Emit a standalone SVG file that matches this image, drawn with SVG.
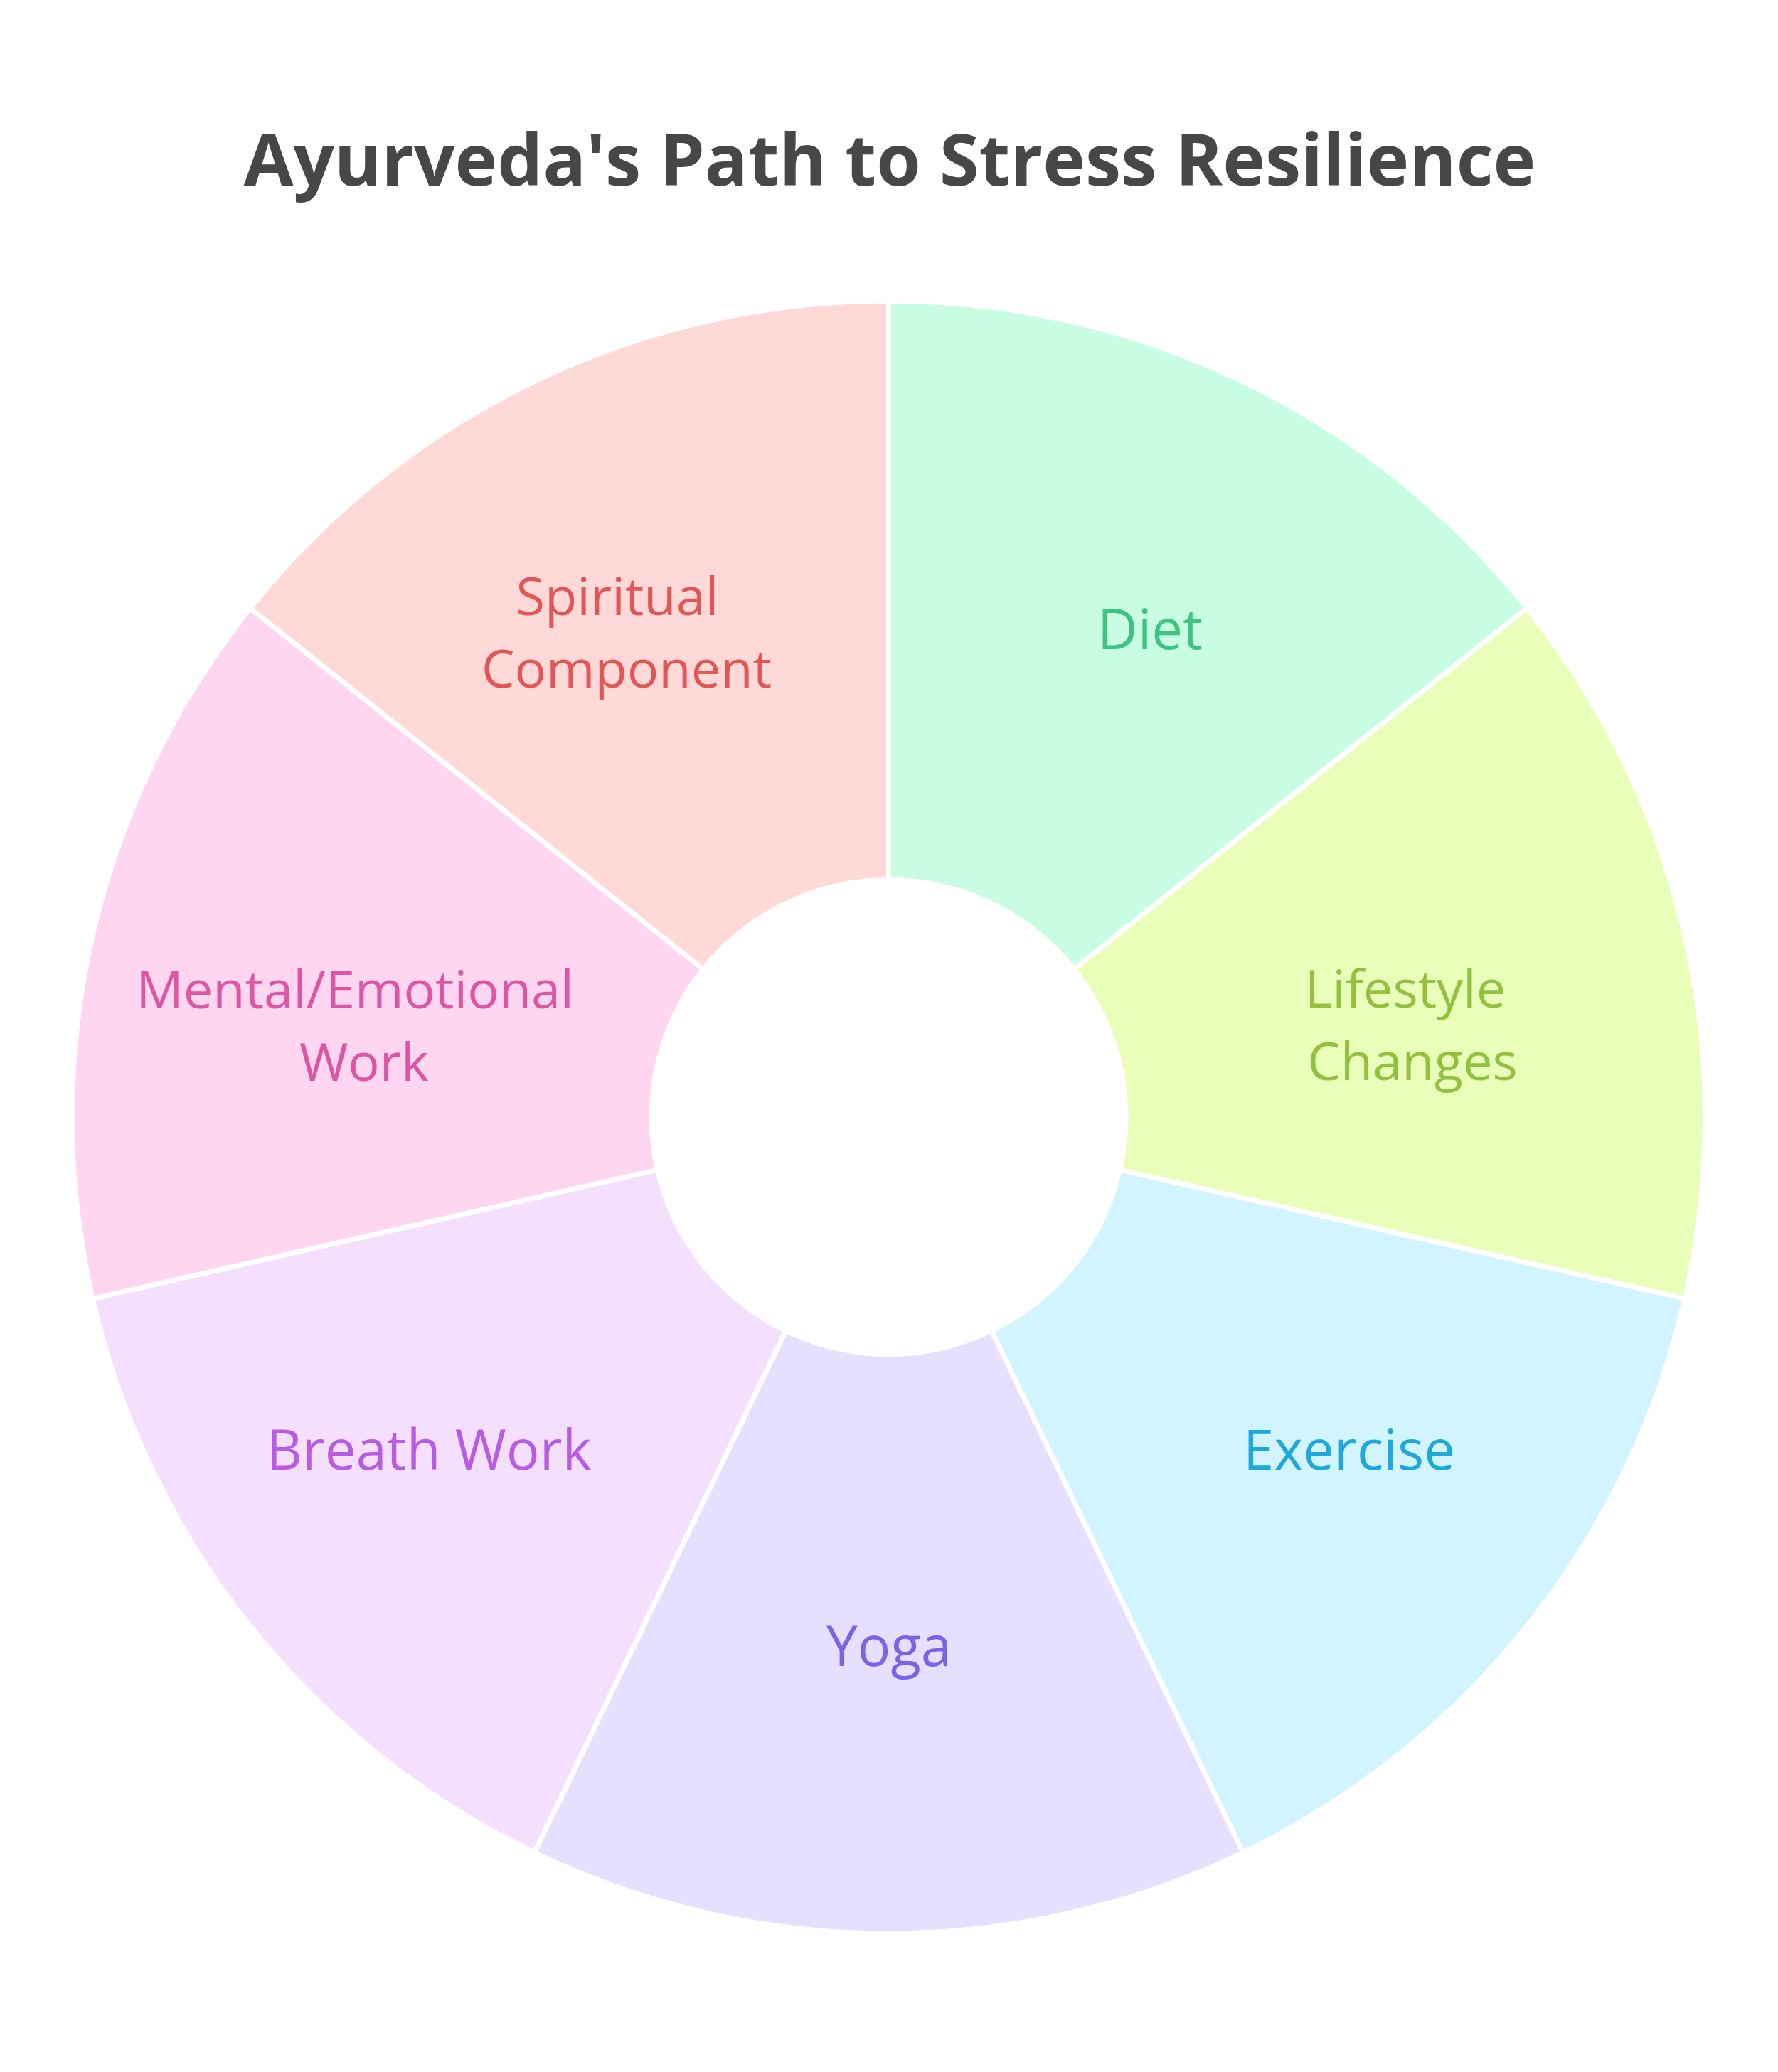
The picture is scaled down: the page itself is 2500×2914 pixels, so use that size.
<svg xmlns="http://www.w3.org/2000/svg" width="2500" height="2914" viewBox="0 0 2500 2914">
<style>
.seg{stroke:#ffffff;stroke-width:7;stroke-linejoin:round}
.lbl{font-family:"Open Sans","Noto Sans",sans-serif;font-size:78px;text-anchor:middle}
.lbl2{font-family:"Open Sans","Noto Sans",sans-serif;font-size:74px;text-anchor:middle}
.title{font-family:"Open Sans","Noto Sans",sans-serif;font-size:101px;font-weight:bold;fill:#474747;text-anchor:middle}
</style>
<rect x="0" y="0" width="2500" height="2914" fill="#ffffff"/>
<text class="title" x="1251" y="261">Ayurveda's Path to Stress Resilience</text>
<g id="segments">
<g id="diet">
<path class="seg" fill="#c8fde3" d="M1249.5,1571 L1249.5,423 A1148,1148 0 0 1 2147.04,855.23 Z"/>
<text class="lbl" fill="#3ec47f" x="1617" y="913">Diet</text>
</g>
<g id="lifestyle">
<path class="seg" fill="#e9feb9" d="M1249.5,1571 L2147.04,855.23 A1148,1148 0 0 1 2368.72,1826.45 Z"/>
<text class="lbl2" fill="#93c13f"><tspan x="1976" y="1417">Lifestyle</tspan><tspan x="1986" y="1519">Changes</tspan></text>
</g>
<g id="exercise">
<path class="seg" fill="#d2f4fe" d="M1249.5,1571 L2368.72,1826.45 A1148,1148 0 0 1 1747.6,2605.31 Z"/>
<text class="lbl" fill="#1fa9da" x="1897" y="2067">Exercise</text>
</g>
<g id="yoga">
<path class="seg" fill="#e6dfff" d="M1249.5,1571 L1747.6,2605.31 A1148,1148 0 0 1 751.4,2605.31 Z"/>
<text class="lbl" fill="#7a64e6" x="1250" y="2343">Yoga</text>
</g>
<g id="breath">
<path class="seg" fill="#f5dfff" d="M1249.5,1571 L751.4,2605.31 A1148,1148 0 0 1 130.28,1826.45 Z"/>
<text class="lbl" fill="#b75ce3" x="603" y="2067">Breath Work</text>
</g>
<g id="mental">
<path class="seg" fill="#ffd6ef" d="M1249.5,1571 L130.28,1826.45 A1148,1148 0 0 1 351.96,855.23 Z"/>
<text class="lbl2" fill="#dd55a4"><tspan x="499" y="1418">Mental/Emotional</tspan><tspan x="512" y="1520">Work</tspan></text>
</g>
<g id="spiritual">
<path class="seg" fill="#ffd8d8" d="M1249.5,1571 L351.96,855.23 A1148,1148 0 0 1 1249.5,423 Z"/>
<text class="lbl2" fill="#e35656"><tspan x="868" y="865">Spiritual</tspan><tspan x="881" y="967">Component</tspan></text>
</g>
</g>
<circle id="hole" cx="1249.5" cy="1571" r="337" fill="#ffffff"/>
</svg>
